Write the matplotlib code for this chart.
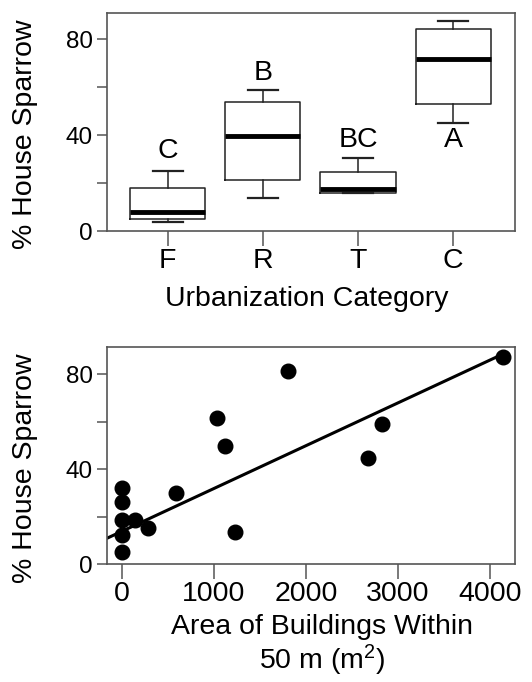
import numpy as np
import matplotlib
matplotlib.use("Agg")
import matplotlib.pyplot as plt
from matplotlib.ticker import MultipleLocator, NullFormatter

plt.rcParams["font.family"] = ["Liberation Sans", "DejaVu Sans"]
plt.rcParams["mathtext.default"] = "regular"

# top panel: box summaries per urbanization category
categories = ["F", "R", "T", "C"]
whis_lo = [4, 13.7, 16, 45]
q1 = [5, 21.3, 16, 53]
med = [8, 39.5, 17.5, 72]
q3 = [18, 54, 24.5, 84.5]
whis_hi = [25, 59, 30.5, 87.6]
groups = ["C", "B", "BC", "A"]
group_y = [28, 60.5, 32.5, 32.5]

# bottom panel: scatter + fitted line
area = [0, 0, 0, 0, 0, 145, 284, 593, 1036, 1116, 1229, 1800, 2673, 2825, 4145]
sparrow = [32, 26, 18.75, 12.2, 5, 18.75, 15, 30, 61.8, 49.7, 13.3, 81.4, 44.9, 59, 87.2]
fit_intercept = 13.8
fit_slope = 0.01806

lab_fs = 20.5
xt_fs = 20.5
yt_fs = 17.5
spine_c = "#555555"

fig = plt.figure(figsize=(5.32, 6.82), dpi=100)
ax1 = fig.add_axes([0.201, 0.661, 0.767, 0.320])
ax2 = fig.add_axes([0.201, 0.173, 0.767, 0.318])

stats = []
for i in range(len(categories)):
    stats.append(dict(whislo=whis_lo[i], q1=q1[i], med=med[i], q3=q3[i], whishi=whis_hi[i], fliers=[]))
pos = np.arange(1, len(categories) + 1)
ax1.bxp(stats, positions=pos, widths=0.79, showfliers=False,
        boxprops=dict(color="#222222", linewidth=1.1),
        medianprops=dict(color="black", linewidth=3.5, solid_capstyle="butt"),
        whiskerprops=dict(color="#222222", linewidth=1.1),
        capprops=dict(color="#222222", linewidth=1.6), capwidths=0.32)
for p, g, gy in zip(pos, groups, group_y):
    ax1.text(p, gy, g, ha="center", va="bottom", fontsize=lab_fs)
ax1.set_xlim(0.36, 4.65)
ax1.set_ylim(0, 91)
ax1.set_xticks(pos)
ax1.set_xticklabels(categories)
ax1.set_xlabel("Urbanization Category", fontsize=lab_fs)
ax1.xaxis.set_label_coords(0.489, -0.25)
ax1.set_ylabel("% House Sparrow", fontsize=lab_fs)
ax1.yaxis.set_label_coords(-0.168, 0.445)

ax2.plot(area, sparrow, "o", color="black", markersize=10.5, zorder=3)
xl = (-163, 4272)
xs = np.array([xl[0], max(area)])
ax2.plot(xs, fit_intercept + fit_slope * xs, color="black", linewidth=2.2, zorder=2)
ax2.set_xlim(*xl)
ax2.set_ylim(0, 91.5)
ax2.set_xticks([0, 1000, 2000, 3000, 4000])
ax2.set_xlabel("Area of Buildings Within\n50 m (m$^{2}$)", fontsize=lab_fs, linespacing=1.1)
ax2.xaxis.set_label_coords(0.528, -0.23)
ax2.set_ylabel("% House Sparrow", fontsize=lab_fs)
ax2.yaxis.set_label_coords(-0.168, 0.442)

for ax in (ax1, ax2):
    ax.set_yticks([0, 40, 80])
    ax.yaxis.set_minor_locator(MultipleLocator(20))
    ax.yaxis.set_minor_formatter(NullFormatter())
    for s in ax.spines.values():
        s.set_color(spine_c)
        s.set_linewidth(1.2)
    ax.tick_params(axis="x", which="major", labelsize=xt_fs, length=11, pad=1,
                   color=spine_c, width=1.1)
    ax.tick_params(axis="y", which="both", labelsize=yt_fs, length=7, pad=3,
                   color=spine_c, width=1.1)

fig.savefig("out.png", dpi=100)
